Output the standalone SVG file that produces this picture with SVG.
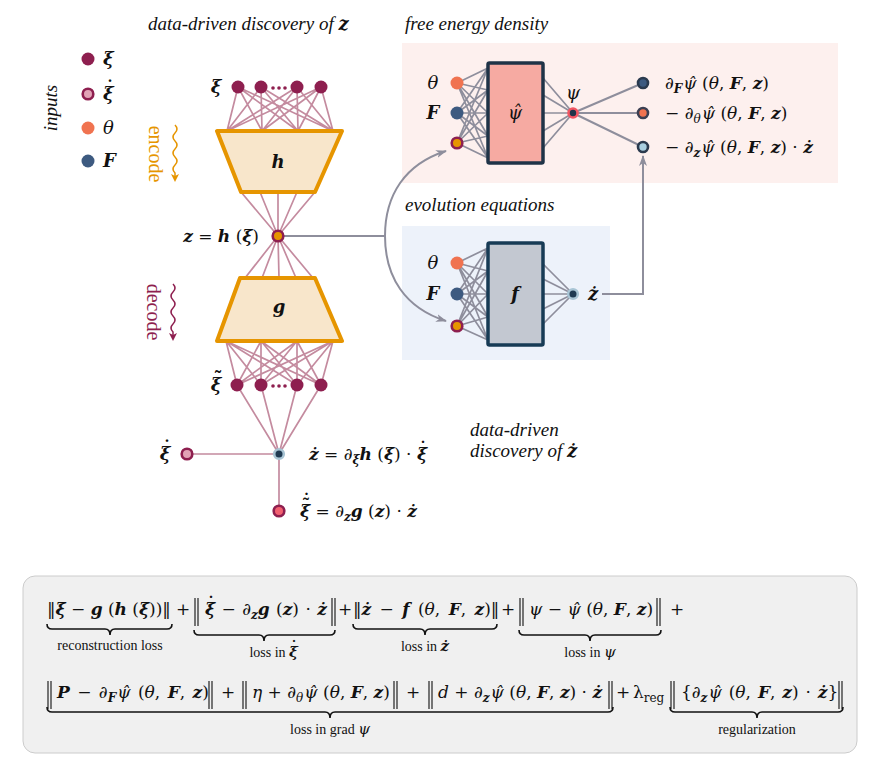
<svg xmlns="http://www.w3.org/2000/svg" width="878" height="771" viewBox="0 0 878 771">
<defs>
<style>
text{font-family:"Liberation Serif","DejaVu Serif",serif;fill:#111;}
.t{font-size:19px;font-style:italic;}
.m{font-family:"DejaVu Serif",serif;font-size:17px;}
.i{font-style:italic;}
.bi{font-style:italic;font-weight:bold;}
.s{font-size:12px;}
.lbl{font-size:14px;}
.acc{font-family:"DejaVu Serif",serif;text-anchor:middle;font-weight:bold;font-style:normal;}
.pk{stroke:#c48b9f;stroke-width:1.7;fill:none;}
.gr{stroke:#8e8e9c;stroke-width:2;fill:none;}
.nx{fill:#8e1f4f;}
.nz{fill:#e69500;stroke:#8e1f4f;stroke-width:2.6;}
.nth{fill:#f07350;}
.nF{fill:#3d5a80;}
.brace{stroke:#111;stroke-width:1.6;fill:none;}
.bar{stroke:#111;stroke-width:1.1;}
</style>
<marker id="ah" markerWidth="12" markerHeight="10" refX="10" refY="4" orient="auto" markerUnits="userSpaceOnUse">
<path d="M0,0 L11,4 L0,8 L3,4 z" fill="#8e8e9c"/>
</marker>
<marker id="aho" markerWidth="10" markerHeight="10" refX="4" refY="4" orient="auto" markerUnits="userSpaceOnUse">
<path d="M0,0 L8,4 L0,8 L2,4 z" fill="#e69500"/>
</marker>
<marker id="ahr" markerWidth="10" markerHeight="10" refX="4" refY="4" orient="auto" markerUnits="userSpaceOnUse">
<path d="M0,0 L8,4 L0,8 L2,4 z" fill="#8e1f4f"/>
</marker>
</defs>
<rect width="878" height="771" fill="#ffffff"/>

<rect x="402" y="43" width="436" height="140" fill="#fdf0ee"/>
<rect x="402" y="226" width="208" height="134" fill="#edf2fa"/>

<text class="t" x="148" y="30">data-driven discovery of <tspan class="bi m" style="font-size:18px">z</tspan></text>
<text class="t" x="405" y="30">free energy density</text>
<text class="t" x="405" y="211">evolution equations</text>
<text class="t" x="470" y="436">data-driven</text>
<text class="t" x="470" y="457">discovery of <tspan class="bi m" style="font-size:18px">ż</tspan></text>

<g id="legend">
<text class="t" transform="translate(57,108) rotate(-90)" text-anchor="middle">inputs</text>
<circle cx="88" cy="59" r="6.5" class="nx"/>
<text class="m bi" x="103" y="65" style="font-size:18px">ξ</text>
<circle cx="88" cy="94" r="5.3" fill="#e2a3b6" stroke="#8e1f4f" stroke-width="2.6"/>
<text class="m bi" x="103" y="100" style="font-size:18px">ξ<tspan class="acc" x="110" y="94">˙</tspan></text>
<circle cx="88" cy="128" r="6.5" class="nth"/>
<text class="m i" x="103" y="134" style="font-size:18px">θ</text>
<circle cx="88" cy="161" r="6.5" class="nF"/>
<text class="m bi" x="103" y="167" style="font-size:18px">F</text>
</g>

<g id="encode-label">
<text transform="translate(149,154) rotate(90)" text-anchor="middle" style="font-size:20px;fill:#e69500">encode</text>
<path d="M175 125 q4 4 0 8 t0 8 t0 8 t0 8 t0 8 t0 8 L175 178" stroke="#e69500" stroke-width="1.5" fill="none" marker-end="url(#aho)"/>
</g>
<g id="decode-label">
<text transform="translate(147,312) rotate(90)" text-anchor="middle" style="font-size:20px;fill:#8e1f4f">decode</text>
<path d="M173 284 q4 4 0 8 t0 8 t0 8 t0 8 t0 8 t0 8 L173 337" stroke="#8e1f4f" stroke-width="1.5" fill="none" marker-end="url(#ahr)"/>
</g>

<g id="connectors">
<path class="pk" d="M238 87L227 131M238 87L262 131M238 87L298 131M238 87L333 131
M261 87L227 131M261 87L262 131M261 87L298 131M261 87L333 131
M297 87L227 131M297 87L262 131M297 87L298 131M297 87L333 131
M321 87L227 131M321 87L262 131M321 87L298 131M321 87L333 131"/>
<path class="pk" d="M241 192L278 236M260 192L278 236M278 192L278 236M297 192L278 236M315 192L278 236"/>
<path class="pk" d="M278 236L245 278M278 236L262 278M278 236L279 278M278 236L296 278M278 236L313 278"/>
<path class="pk" d="M226 341L237 385M226 341L261 385M226 341L297 385M226 341L321 385
M261 341L237 385M261 341L261 385M261 341L297 385M261 341L321 385
M297 341L237 385M297 341L261 385M297 341L297 385M297 341L321 385
M333 341L237 385M333 341L261 385M333 341L297 385M333 341L321 385"/>
<path class="pk" d="M237 385L279 454M261 385L279 454M297 385L279 454M321 385L279 454"/>
<path class="pk" d="M187 454H279V511"/>
<path class="gr" style="stroke-width:1.7" d="M457 83L488 68M457 83L488 90M457 83L488 113M457 83L488 136M457 83L488 158
M457 113L488 68M457 113L488 90M457 113L488 113M457 113L488 136M457 113L488 158
M457 143L488 68M457 143L488 90M457 143L488 113M457 143L488 136M457 143L488 158
M543 78L573 113M543 95L573 113M543 113L573 113M543 131L573 113M543 148L573 113"/>
<path class="gr" d="M573 113L643 83M573 113L643 113M573 113L643 147"/>
<path class="gr" style="stroke-width:1.7" d="M457 263L488 248M457 263L488 271M457 263L488 294M457 263L488 317M457 263L488 340
M457 294L488 248M457 294L488 271M457 294L488 294M457 294L488 317M457 294L488 340
M457 326L488 248M457 326L488 271M457 326L488 294M457 326L488 317M457 326L488 340
M543 264L573 294M543 279L573 294M543 294L573 294M543 309L573 294M543 324L573 294"/>
<path class="gr" d="M284 236H385"/>
<path class="gr" d="M385 236C385 195 405 164 446 151" marker-end="url(#ah)"/>
<path class="gr" d="M385 236C385 277 405 308 446 321" marker-end="url(#ah)"/>
<path class="gr" d="M602 294H643V156" marker-end="url(#ah)"/>
</g>

<g id="encoder-h">
<polygon points="217,131 342,131 315,192 241,192" fill="#f8e6cb" stroke="#e69500" stroke-width="4" stroke-linejoin="round"/>
<text class="m bi" x="278" y="168" text-anchor="middle" style="font-size:18px">h</text>
</g>
<g id="decoder-g">
<polygon points="240,278 315,278 342,341 217,341" fill="#f8e6cb" stroke="#e69500" stroke-width="4" stroke-linejoin="round"/>
<text class="m bi" x="279" y="313" text-anchor="middle" style="font-size:18px">g</text>
</g>

<g id="xi-input">
<circle cx="238" cy="87" r="6.5" class="nx"/><circle cx="261" cy="87" r="6.5" class="nx"/>
<circle cx="297" cy="87" r="6.5" class="nx"/><circle cx="321" cy="87" r="6.5" class="nx"/>
<circle cx="273" cy="88" r="1.8" class="nx"/><circle cx="279" cy="88" r="1.8" class="nx"/><circle cx="285" cy="88" r="1.8" class="nx"/>
<text class="m bi" x="216" y="93" text-anchor="middle" style="font-size:18px">ξ</text>
</g>

<g id="z-latent">
<circle cx="278" cy="236" r="5.3" class="nz"/>
<text class="m" x="259" y="242" text-anchor="end"><tspan class="bi">z</tspan> = <tspan class="bi">h</tspan> (<tspan class="bi">ξ</tspan>)</text>
</g>

<g id="xi-tilde">
<circle cx="237" cy="385" r="6.5" class="nx"/><circle cx="261" cy="385" r="6.5" class="nx"/>
<circle cx="297" cy="385" r="6.5" class="nx"/><circle cx="321" cy="385" r="6.5" class="nx"/>
<circle cx="273" cy="386" r="1.8" class="nx"/><circle cx="279" cy="386" r="1.8" class="nx"/><circle cx="285" cy="386" r="1.8" class="nx"/>
<text class="m bi" x="216" y="391" text-anchor="middle" style="font-size:18px">ξ<tspan class="acc" x="218" y="385">˜</tspan></text>
</g>

<g id="xidot-input">
<circle cx="187" cy="454" r="5.3" fill="#e2a3b6" stroke="#8e1f4f" stroke-width="2.6"/>
<text class="m bi" x="165" y="460" text-anchor="middle" style="font-size:18px">ξ<tspan class="acc" x="167" y="454">˙</tspan></text>
</g>

<g id="zdot-chain">
<circle cx="279" cy="454" r="4.8" fill="#1f3a52" stroke="#a8c4d4" stroke-width="2.6"/>
<text class="m" x="427" y="460" text-anchor="end"><tspan class="bi">ż</tspan> = ∂<tspan class="bi s" dy="4">ξ</tspan><tspan class="bi" dy="-4">h</tspan> (<tspan class="bi">ξ</tspan>) · <tspan class="bi">ξ</tspan><tspan class="acc" x="423" y="454">˙</tspan></text>
</g>

<g id="xitildedot">
<circle cx="279" cy="511" r="5.3" fill="#f26070" stroke="#8e1f4f" stroke-width="2.6"/>
<text class="m" x="300" y="517"><tspan class="bi">ξ</tspan> = ∂<tspan class="bi s" dy="4">z</tspan><tspan class="bi" dy="-4">g</tspan> (<tspan class="bi">z</tspan>) · <tspan class="bi">ż</tspan><tspan class="acc" x="306" y="511">˜</tspan><tspan class="acc" x="306.5" y="506">˙</tspan></text>
</g>

<g id="fe-inputs">
<circle cx="457" cy="83" r="6.5" class="nth"/>
<circle cx="457" cy="113" r="6.5" class="nF"/>
<circle cx="457" cy="143" r="5.3" class="nz"/>
<text class="m i" x="433" y="89" text-anchor="middle" style="font-size:18px">θ</text>
<text class="m bi" x="433" y="119" text-anchor="middle" style="font-size:18px">F</text>
</g>
<g id="psi-hat-net">
<rect x="488" y="63" width="55" height="100" rx="1.5" fill="#f6aaa2" stroke="#1f3347" stroke-width="3.5"/>
<text class="m i" x="515" y="119" text-anchor="middle" style="font-size:18px">ψ̂</text>
</g>
<g id="psi-node">
<circle cx="573" cy="113" r="4.5" fill="#1f3449" stroke="#f25562" stroke-width="2.6"/>
<text class="m i" x="573" y="99" text-anchor="middle" style="font-size:18px">ψ</text>
</g>
<g id="fe-outputs">
<circle cx="643" cy="83" r="5" fill="#3d5a80" stroke="#2b3a4e" stroke-width="2.6"/>
<circle cx="643" cy="113" r="5" fill="#f07350" stroke="#3b3f52" stroke-width="2.6"/>
<circle cx="643" cy="147" r="5" fill="#a9cfe0" stroke="#2b3a4e" stroke-width="2.6"/>
<text class="m" x="665" y="89">∂<tspan class="bi s" dy="4">F</tspan><tspan class="i" dy="-4" dx="1">ψ̂</tspan> (<tspan class="i">θ</tspan>, <tspan class="bi">F</tspan>, <tspan class="bi">z</tspan>)</text>
<text class="m" x="665" y="119">− ∂<tspan class="i s" dy="4">θ</tspan><tspan class="i" dy="-4" dx="1">ψ̂</tspan> (<tspan class="i">θ</tspan>, <tspan class="bi">F</tspan>, <tspan class="bi">z</tspan>)</text>
<text class="m" x="665" y="153">− ∂<tspan class="bi s" dy="4">z</tspan><tspan class="i" dy="-4" dx="1">ψ̂</tspan> (<tspan class="i">θ</tspan>, <tspan class="bi">F</tspan>, <tspan class="bi">z</tspan>) · <tspan class="bi">ż</tspan></text>
</g>

<g id="ev-inputs">
<circle cx="457" cy="263" r="6.5" class="nth"/>
<circle cx="457" cy="294" r="6.5" class="nF"/>
<circle cx="457" cy="326" r="5.3" class="nz"/>
<text class="m i" x="433" y="269" text-anchor="middle" style="font-size:18px">θ</text>
<text class="m bi" x="433" y="300" text-anchor="middle" style="font-size:18px">F</text>
</g>
<g id="f-net">
<rect x="488" y="243" width="55" height="102" rx="1.5" fill="#c3c8d1" stroke="#173b55" stroke-width="3.5"/>
<text class="m bi" x="515" y="300" text-anchor="middle" style="font-size:18px">f</text>
</g>
<g id="zdot-out">
<circle cx="573" cy="294" r="4.8" fill="#1f3a52" stroke="#a8c4d4" stroke-width="2.6"/>
<text class="m bi" x="588" y="300" style="font-size:18px">ż</text>
</g>

<g id="loss">
<rect x="23" y="576" width="834" height="177" rx="12" fill="#f0f0f0" stroke="#cccccc" stroke-width="1"/>
<text class="m" x="47" y="615">‖<tspan class="bi">ξ</tspan> − <tspan class="bi">g</tspan> (<tspan class="bi">h</tspan> (<tspan class="bi">ξ</tspan>))‖</text>
<text class="m" x="183" y="615" text-anchor="middle">+</text>
<text class="m" x="205" y="615" word-spacing="1"><tspan class="bi">ξ</tspan> − ∂<tspan class="bi s" dy="4">z</tspan><tspan class="bi" dy="-4">g</tspan> (<tspan class="bi">z</tspan>) · <tspan class="bi">ż</tspan><tspan class="acc" x="211" y="609">˙</tspan></text>
<text class="m" x="345" y="615" text-anchor="middle">+</text>
<text class="m" x="353" y="615" word-spacing="3">‖<tspan class="bi">ż</tspan> − <tspan class="bi">f</tspan> (<tspan class="i">θ</tspan>, <tspan class="bi">F</tspan>, <tspan class="bi">z</tspan>)‖</text>
<text class="m" x="508" y="615" text-anchor="middle">+</text>
<text class="m" x="529" y="615"><tspan class="i">ψ</tspan> − <tspan class="i">ψ̂</tspan> (<tspan class="i">θ</tspan>, <tspan class="bi">F</tspan>, <tspan class="bi">z</tspan>)</text>
<text class="m" x="677" y="615" text-anchor="middle">+</text>
<path class="bar" d="M195 598V626M198 598V626M332 598V626M335 598V626M520 598V626M523 598V626M657 598V626M660 598V626"/>
<text class="m" x="57" y="698" word-spacing="2"><tspan class="bi">P</tspan> − ∂<tspan class="bi s" dy="4">F</tspan><tspan class="i" dy="-4" dx="1">ψ̂</tspan> (<tspan class="i">θ</tspan>, <tspan class="bi">F</tspan>, <tspan class="bi">z</tspan>)</text>
<text class="m" x="228" y="698" text-anchor="middle">+</text>
<text class="m" x="252" y="698"><tspan class="i">η</tspan> + ∂<tspan class="i s" dy="4">θ</tspan><tspan class="i" dy="-4" dx="1">ψ̂</tspan> (<tspan class="i">θ</tspan>, <tspan class="bi">F</tspan>, <tspan class="bi">z</tspan>)</text>
<text class="m" x="413" y="698" text-anchor="middle">+</text>
<text class="m" x="438" y="698"><tspan class="i">d</tspan> + ∂<tspan class="bi s" dy="4">z</tspan><tspan class="i" dy="-4" dx="1">ψ̂</tspan> (<tspan class="i">θ</tspan>, <tspan class="bi">F</tspan>, <tspan class="bi">z</tspan>) · <tspan class="bi">ż</tspan></text>
<text class="m" x="623" y="698" text-anchor="middle">+</text>
<text class="m" x="633" y="698">λ<tspan class="s" dy="4">reg</tspan></text>
<text class="m" x="681" y="698" word-spacing="1.5">{∂<tspan class="bi s" dy="4">z</tspan><tspan class="i" dy="-4" dx="1">ψ̂</tspan> (<tspan class="i">θ</tspan>, <tspan class="bi">F</tspan>, <tspan class="bi">z</tspan>) · <tspan class="bi">ż</tspan>}</text>
<path class="bar" d="M48 681V709M51 681V709M209 681V709M212 681V709M243 681V709M246 681V709M394 681V709M397 681V709M429 681V709M432 681V709M609 681V709M612 681V709M671 681V709M674 681V709M839 681V709M842 681V709"/>
<path class="brace" d="M47 624Q47 629 52 629L105 629Q110 629 110 635Q110 629 115 629L167 629Q172 629 172 624"/>
<path class="brace" d="M194 630Q194 635 199 635L259 635Q264 635 264 641Q264 635 269 635L330 635Q335 635 335 630"/>
<path class="brace" d="M353 624Q353 629 358 629L420 629Q425 629 425 635Q425 629 430 629L492 629Q497 629 497 624"/>
<path class="brace" d="M519 630Q519 635 524 635L585 635Q590 635 590 641Q590 635 595 635L656 635Q661 635 661 630"/>
<path class="brace" d="M47 707Q47 712 52 712L325 712Q330 712 330 718Q330 712 335 712L608 712Q613 712 613 707"/>
<path class="brace" d="M670 707Q670 712 675 712L752 712Q757 712 757 718Q757 712 762 712L838 712Q843 712 843 707"/>
<text class="lbl" x="110" y="650" text-anchor="middle">reconstruction loss</text>
<text class="lbl" x="298" y="657" text-anchor="end">loss in <tspan class="m bi" style="font-size:15px">ξ</tspan><tspan class="acc" x="294" y="652" style="font-size:15px">˙</tspan></text>
<text class="lbl" x="425" y="651" text-anchor="middle">loss in <tspan class="m bi" style="font-size:15px">ż</tspan></text>
<text class="lbl" x="590" y="657" text-anchor="middle">loss in <tspan class="m i" style="font-size:15px">ψ</tspan></text>
<text class="lbl" x="330" y="734" text-anchor="middle">loss in grad <tspan class="m i" style="font-size:15px">ψ</tspan></text>
<text class="lbl" x="757" y="734" text-anchor="middle">regularization</text>
</g>
</svg>
